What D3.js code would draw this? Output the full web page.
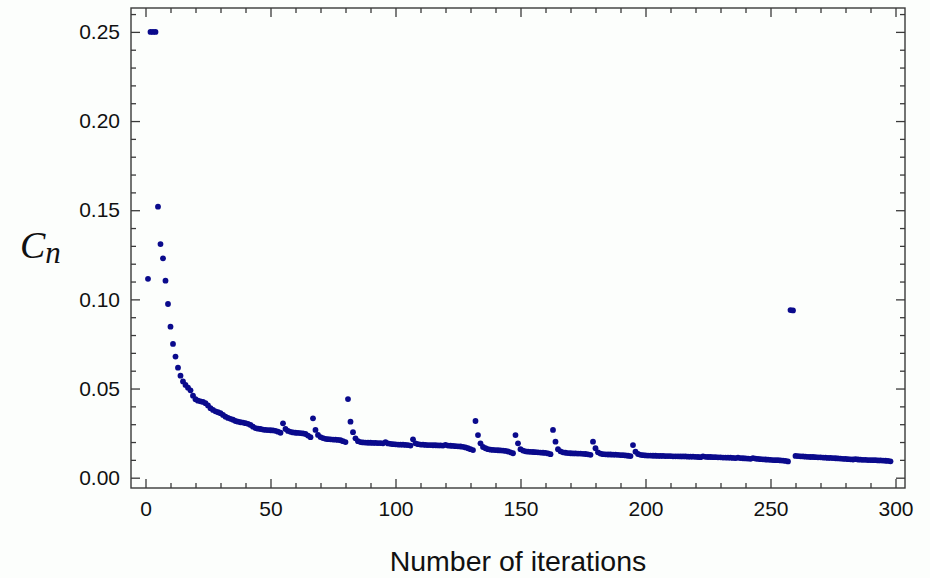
<!DOCTYPE html>
<html>
<head>
<meta charset="utf-8">
<script src="https://cdn.jsdelivr.net/npm/d3@7"></script>
<style>
  body { margin: 0; background: #fcfefc; }
  svg { display: block; }
</style>
</head>
<body>
<script>
// C_n for iterations 1..298
var cnValues = [
  0.1115, 0.25, 0.25, 0.25, 0.152, 0.131, 0.123, 0.1105, 0.0974, 0.0847,
  0.075, 0.0679, 0.0617, 0.0572, 0.054, 0.052, 0.0505, 0.049, 0.046, 0.044,
  0.0432, 0.0428, 0.0425, 0.0418, 0.0405, 0.039, 0.038, 0.0372, 0.0367, 0.0362,
  0.0352, 0.0342, 0.0335, 0.033, 0.0325, 0.0318, 0.0314, 0.0311, 0.0309, 0.0306,
  0.0302, 0.0296, 0.0286, 0.0278, 0.0275, 0.0273, 0.027, 0.0268, 0.0267, 0.0266,
  0.0265, 0.0263, 0.0258, 0.0252, 0.0305, 0.0273, 0.0262, 0.0257, 0.0254, 0.0252,
  0.0251, 0.025, 0.0248, 0.0245, 0.0236, 0.0227, 0.0333, 0.0268, 0.024, 0.0228,
  0.0222, 0.0218, 0.0216, 0.0215, 0.0214, 0.0213, 0.0212, 0.021, 0.0205, 0.02,
  0.0441, 0.0314, 0.0255, 0.0221, 0.0205, 0.02, 0.0198, 0.0197, 0.0196, 0.0196,
  0.0195, 0.0195, 0.0194, 0.0194, 0.0193, 0.02, 0.0192, 0.019, 0.0188, 0.0187,
  0.0186, 0.0185, 0.0185, 0.0184, 0.0183, 0.018, 0.0215, 0.0193, 0.0188, 0.0186,
  0.0185, 0.0184, 0.0183, 0.0183, 0.0182, 0.0182, 0.0181, 0.0181, 0.018, 0.0184,
  0.018, 0.0179, 0.0178, 0.0177, 0.0176, 0.0175, 0.0173, 0.017, 0.0165, 0.016,
  0.0155, 0.0318, 0.0239, 0.0193, 0.0172, 0.0165, 0.016, 0.0157, 0.0156, 0.0155,
  0.0154, 0.0153, 0.0152, 0.015, 0.0147, 0.0142, 0.0137, 0.0239, 0.0193, 0.016,
  0.0152, 0.0148, 0.0146, 0.0145, 0.0144, 0.0143, 0.0142, 0.0141, 0.014, 0.0139,
  0.0136, 0.0132, 0.0268, 0.0202, 0.016, 0.0148, 0.0142, 0.014, 0.0138, 0.0137,
  0.0136, 0.0136, 0.0135, 0.0135, 0.0134, 0.0133, 0.0131, 0.0128, 0.0202, 0.0165,
  0.0142, 0.0135, 0.0132, 0.0131, 0.013, 0.013, 0.0129, 0.0129, 0.0128, 0.0127,
  0.0126, 0.0125, 0.0123, 0.0121, 0.0183, 0.0146, 0.0133, 0.0128, 0.0126, 0.0125,
  0.0124, 0.0124, 0.0123, 0.0123, 0.0122, 0.0122, 0.0122, 0.0121, 0.0121, 0.0121,
  0.012, 0.012, 0.012, 0.0119, 0.0119, 0.0119, 0.0118, 0.0118, 0.0118, 0.0117,
  0.0116, 0.0115, 0.012, 0.0117, 0.0116, 0.0116, 0.0115, 0.0115, 0.0114, 0.0114,
  0.0113, 0.0113, 0.0112, 0.0112, 0.0111, 0.011, 0.0112, 0.011, 0.0109, 0.0108,
  0.0107, 0.0106, 0.011, 0.0107, 0.0105, 0.0104, 0.0103, 0.0102, 0.0101, 0.01,
  0.0099, 0.0098, 0.0098, 0.0097, 0.0096, 0.0094, 0.0091, 0.094, 0.0938, 0.0122,
  0.0121, 0.012, 0.0119, 0.0118, 0.0117, 0.0116, 0.0116, 0.0115, 0.0114, 0.0114,
  0.0113, 0.0112, 0.0111, 0.0111, 0.011, 0.0109, 0.0108, 0.0107, 0.0106, 0.0105,
  0.0104, 0.0103, 0.0102, 0.0104, 0.0102, 0.0101, 0.01, 0.01, 0.0099, 0.0099,
  0.0098, 0.0098, 0.0097, 0.0097, 0.0096, 0.0095, 0.0094, 0.0092
];
var xTicks = [0, 50, 100, 150, 200, 250, 300];
var xMinor = [10, 20, 30, 40, 60, 70, 80, 90, 110, 120, 130, 140, 160, 170, 180, 190, 210, 220, 230, 240, 260, 270, 280, 290];
var yTicks = [0, 0.05, 0.10, 0.15, 0.20, 0.25];
var yMinor = [0.01, 0.02, 0.03, 0.04, 0.06, 0.07, 0.08, 0.09, 0.11, 0.12, 0.13, 0.14, 0.16, 0.17, 0.18, 0.19, 0.21, 0.22, 0.23, 0.24, 0.26];

var width = 930, height = 578;
var plotL = 131, plotR = 905, plotT = 8, plotB = 488;

var svg = d3.select('body').append('svg')
    .attr('width', width)
    .attr('height', height);

var x = d3.scaleLinear().domain([-5.8, 303.8]).range([plotL, plotR]);
var y = d3.scaleLinear().domain([-0.00578, 0.2634]).range([plotB, plotT]);

var axisColor = '#3a3a3a';

function drawAxis(axis, tx, ty) {
  var g = svg.append('g')
      .attr('transform', 'translate(' + tx + ',' + ty + ')')
      .call(axis);
  g.select('.domain').remove();
  g.selectAll('line').attr('stroke', axisColor).attr('stroke-width', 1.3);
  g.selectAll('text')
      .attr('fill', '#111')
      .style('font-family', '"Liberation Sans", Arial, sans-serif')
      .style('font-size', '21px');
  return g;
}

// bottom / left with labels
drawAxis(d3.axisBottom(x).tickValues(xTicks).tickSize(-9).tickPadding(13).tickFormat(d3.format('d')), 0, plotB);
drawAxis(d3.axisBottom(x).tickValues(xMinor).tickSize(-5).tickFormat(''), 0, plotB);
drawAxis(d3.axisLeft(y).tickValues(yTicks).tickSize(-9).tickPadding(11).tickFormat(d3.format('.2f')), plotL, 0);
drawAxis(d3.axisLeft(y).tickValues(yMinor).tickSize(-5).tickFormat(''), plotL, 0);

// top / right, ticks only
drawAxis(d3.axisTop(x).tickValues(xTicks).tickSize(-9).tickFormat(''), 0, plotT);
drawAxis(d3.axisTop(x).tickValues(xMinor).tickSize(-5).tickFormat(''), 0, plotT);
drawAxis(d3.axisRight(y).tickValues(yTicks).tickSize(-9).tickFormat(''), plotR, 0);
drawAxis(d3.axisRight(y).tickValues(yMinor).tickSize(-5).tickFormat(''), plotR, 0);

// frame
svg.append('rect')
    .attr('x', plotL)
    .attr('y', plotT)
    .attr('width', plotR - plotL)
    .attr('height', plotB - plotT)
    .attr('fill', 'none')
    .attr('stroke', axisColor)
    .attr('stroke-width', 1.4);

// points
svg.append('g')
  .selectAll('circle')
  .data(cnValues)
  .enter().append('circle')
    .attr('cx', function(d, i) { return x(i + 1); })
    .attr('cy', function(d) { return y(d); })
    .attr('r', 2.9)
    .attr('fill', '#0a0a8c');

// axis titles
svg.append('text')
    .attr('x', (plotL + plotR) / 2)
    .attr('y', 571)
    .attr('text-anchor', 'middle')
    .attr('fill', '#111')
    .style('font-family', '"Liberation Sans", Arial, sans-serif')
    .style('font-size', '28.5px')
    .text('Number of iterations');

var cn = svg.append('text')
    .attr('x', 20)
    .attr('y', 258)
    .attr('fill', '#111')
    .style('font-family', '"Liberation Serif", "Times New Roman", serif')
    .style('font-style', 'italic');
cn.append('tspan').style('font-size', '38px').text('C');
cn.append('tspan').attr('dy', 5).style('font-size', '31px').text('n');
</script>
</body>
</html>
